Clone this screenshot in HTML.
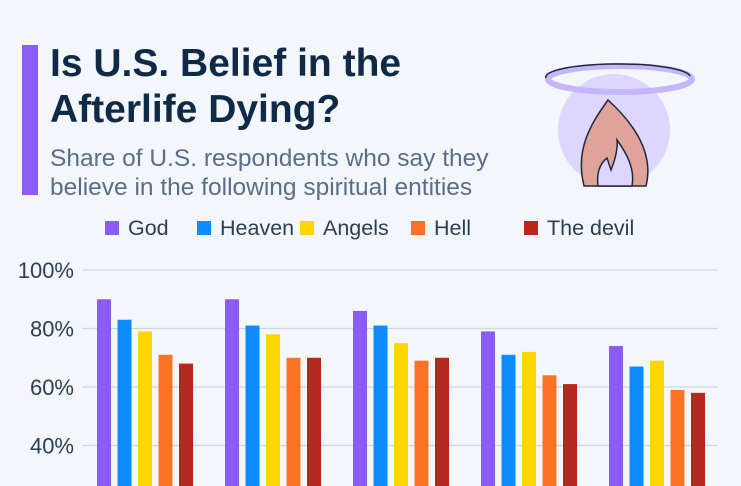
<!DOCTYPE html>
<html><head><meta charset="utf-8"><style>
body{margin:0;width:741px;height:486px;overflow:hidden;background:#f3f6fa;font-family:"Liberation Sans",sans-serif;position:relative}
.t{position:absolute;left:50px;top:41px;font-size:39px;font-weight:bold;color:#0f2a47;line-height:46px}
.s{position:absolute;left:50px;top:144px;font-size:24.5px;color:#5a6f87;line-height:29px}
.bar{position:absolute;left:22px;top:45px;width:16px;height:150px;background:#8b5cf6}
</style></head><body>
<div class="bar"></div>
<div class="t">Is U.S. Belief in the<br>Afterlife Dying?</div>
<div class="s">Share of U.S. respondents who say they<br>believe in the following spiritual entities</div>
<svg width="741" height="486" style="position:absolute;left:0;top:0">
<g>
<circle cx="614" cy="130" r="56" fill="#ddd6fe"/>
<ellipse cx="620" cy="79" rx="72" ry="13" fill="none" stroke="#c4b5fd" stroke-width="6"/>
<path d="M546 78 A72 13 0 0 1 690 76" fill="none" stroke="#1e293b" stroke-width="1.5"/>
<path d="M608 100 C590 125 575 150 584 186 L646 186 C655 150 630 120 608 100 Z" fill="#e0a39a" stroke="#1e293b" stroke-width="1.5"/>
<path d="M598 186 C596 170 602 162 607 158 L611 170 C615 160 618 150 617 140 C628 155 635 170 632 186 Z" fill="#ddd6fe" stroke="#1e293b" stroke-width="1.5"/>
</g>
<g id="legend"></g><g id="grid"></g><g id="bars"></g>
</svg>
<script>
const series=["God","Heaven","Angels","Hell","The devil"];
const colors=["#8b5cf6","#0b8cff","#ffd500","#ff7124","#b9261b"];
const god=[90,90,86,79,74];
const heaven=[83,81,81,71,67];
const angels=[79,78,75,72,69];
const hell=[71,70,69,64,59];
const devil=[68,70,70,61,58];
const ticks=[100,80,60,40];
const vals=[god,heaven,angels,hell,devil];
const NS="http://www.w3.org/2000/svg";
const y=v=>270+(100-v)*2.925;
const gx=i=>97+i*128;
function mk(t,a,p){const e=document.createElementNS(NS,t);for(const k in a)e.setAttribute(k,a[k]);p.appendChild(e);return e;}
const G=document.getElementById('grid');
ticks.forEach(t=>{
 const l=mk('line',{x1:82,x2:718,y1:y(t),y2:y(t),stroke:'#d0d6de','stroke-width':1.2},G);
 
 
 const tx=mk('text',{x:74,y:y(t)+8,'text-anchor':'end','font-size':22,fill:'#2c3e55'},G);
 tx.textContent=t+'%';
 
 
});
const B=document.getElementById('bars');
vals.forEach((arr,s)=>arr.forEach((v,i)=>{
 const r=mk('rect',{x:gx(i)+s*20.5,y:y(v),width:14,height:486-y(v),fill:colors[s]},B);
 
 
}));
const L=document.getElementById('legend');
const lx=[105,197,300,411,524];
series.forEach((n,s)=>{
 const r=mk('rect',{x:lx[s],y:221,width:14,height:14,fill:colors[s]},L);
 
 
 const t=mk('text',{x:lx[s]+23,y:235,'font-size':21.5,fill:'#2c3e55'},L);
 t.textContent=n;
 
 
});
</script>
</body></html>
